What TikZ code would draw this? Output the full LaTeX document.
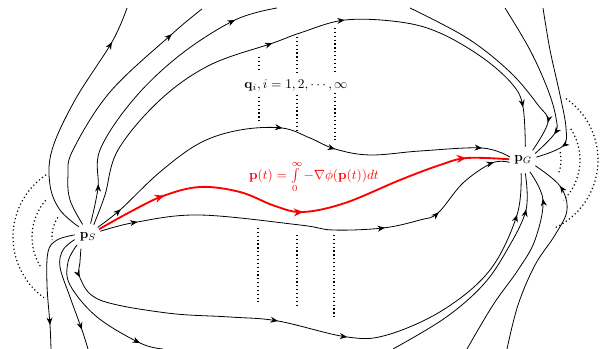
\documentclass[tikz,border=0pt]{standalone}
\usetikzlibrary{arrows.meta,decorations.markings}

\begin{document}
\begin{tikzpicture}[
  x=0.75pt, y=0.75pt,
  every node/.style={inner sep=1pt},
  pnt/.style={circle, minimum size=20pt, inner sep=0pt},
  flow/.style={draw, line width=0.6pt},
  best/.style={draw, red, line width=1.4pt},
  flowtip/.style={postaction={decorate, decoration={markings,
      mark=at position #1 with {\arrow{Stealth[length=5.5pt, width=4.5pt]}}}}},
  besttip/.style={postaction={decorate, decoration={markings,
      mark=at position #1 with {\arrow{Stealth[length=7pt, width=6pt]}}}}},
  level/.style={draw, dotted, line width=0.9pt}]

  \useasboundingbox (0,0) rectangle (607,-349);

  % --- start and goal ---
  \node[pnt] (pS) at (88,-237) {$\mathbf{p}_S$};
  \node[pnt] (pG) at (523,-160) {$\mathbf{p}_G$};

  % --- labels ---
  \node (qlab) at (296,-85) {$\mathbf{q}_i, i=1,2,\cdots,\infty$};
  \node[text=red] (plab) at (314,-177) {$\mathbf{p}(t)=\int\limits_0^\infty -\nabla\phi(\mathbf{p}(t))dt$};

  % --- level sets round p_S and p_G ---
  \draw[level] (pS.center) ++(124:75) arc[start angle=124, end angle=234, radius=75];
  \draw[level] (pS.center) ++(139:56) arc[start angle=139, end angle=214, radius=56];
  \draw[level] (pS.center) ++(147:36) arc[start angle=147, end angle=185, radius=36];
  \draw[level] (pG.center) ++(55:75) arc[start angle=55, end angle=-65, radius=75];
  \draw[level] (pG.center) ++(33:57) arc[start angle=33, end angle=-45, radius=57];
  \draw[level] (pG.center) ++(12:38) arc[start angle=12, end angle=-20, radius=38];

  % --- the q_i, cut by the label ---
  \draw[level] (259,-57) -- (259,-72) (259,-97) -- (259,-122);
  \draw[level] (297,-37) -- (297,-72) (297,-95) -- (297,-130);
  \draw[level] (335,-28) -- (335,-72) (335,-93) -- (335,-140);
  \draw[level] (258,-228) -- (258,-302);
  \draw[level] (297,-235) -- (297,-308);
  \draw[level] (334,-235) -- (334,-318);

  % --- flow lines leaving p_S upward ---
  \draw[flow, flowtip=0.85] plot[smooth, tension=0.6] coordinates {(pS.132) (60,-210) (50,-185) (52,-150) (75,-100) (112,-42) (127,-8)};
  \draw[flow, flowtip=0.855] plot[smooth, tension=0.6] coordinates {(pS.113) (70,-200) (68,-175) (73,-150) (110,-92) (172,-34) (202,-9)};
  \draw[flow, flowtip=0.13, flowtip=0.858] plot[smooth, tension=0.6] coordinates {(pS.79) (98,-188) (100,-150) (133,-100) (180,-55) (235,-20) (277,-8)};
  \draw[flow, flowtip=0.453, flowtip=0.58, flowtip=0.934] plot[smooth, tension=0.6] coordinates {(pS.65) (105,-195) (118,-150) (160,-100) (210,-65) (273,-43) (300,-33) (345,-20) (400,-22) (440,-33) (483,-58) (513,-85) (523,-107) (pG.80)};

  % --- flow lines from p_S to p_G through the middle ---
  \draw[flow, flowtip=0.065, flowtip=0.482, flowtip=0.608, flowtip=0.935] plot[smooth, tension=0.6] coordinates {(pS.45) (120,-210) (160,-172) (200,-143) (240,-130) (282,-128) (310,-138) (335,-149) (370,-155) (420,-151) (482,-148) (pG.167)};
  \draw[best, besttip=0.169, besttip=0.502, besttip=0.9] plot[smooth, tension=0.6] coordinates {(pS.35) (130,-212) (163,-196) (200,-187) (240,-192) (275,-206) (303,-212) (345,-203) (400,-180) (440,-165) (467,-158) (pG.177)};
  \draw[flow, flowtip=0.088, flowtip=0.66, flowtip=0.79, flowtip=0.963] plot[smooth, tension=0.6] coordinates {(pS.25) (137,-222) (200,-215) (300,-225) (333,-230) (383,-228) (420,-220) (438,-213) (463,-183) (492,-163) (pG.190)};

  % --- flow lines leaving p_S downward ---
  \draw[flow, flowtip=0.816] plot[smooth, tension=0.6] coordinates {(pS.171) (57,-240) (48,-252) (47,-285) (50,-325) (51,-349)};
  \draw[flow, flowtip=0.83] plot[smooth, tension=0.6] coordinates {(pS.191) (63,-250) (60,-267) (70,-297) (82,-330) (88,-349)};
  \draw[flow, flowtip=0.85] plot[smooth, tension=0.6] coordinates {(pS.216) (68,-262) (70,-285) (97,-317) (140,-343) (163,-349)};
  \draw[flow, flowtip=0.05, flowtip=0.415, flowtip=0.538, flowtip=0.928] plot[smooth, tension=0.6] coordinates {(pS.239) (80,-262) (80,-278) (100,-300) (167,-313) (230,-317) (278,-321) (347,-337) (387,-335) (443,-310) (490,-270) (517,-215) (pG.262)};

  % --- flow lines coming into p_G from above ---
  \draw[flow, flowtip=0.853] plot[smooth, tension=0.6] coordinates {(410,-8) (467,-38) (510,-72) (538,-105) (548,-122) (pG.45)};
  \draw[flow, flowtip=0.836] plot[smooth, tension=0.6] coordinates {(505,-8) (530,-50) (548,-90) (556,-118) (555,-133) (pG.28)};
  \draw[flow, flowtip=0.837] plot[smooth, tension=0.6] coordinates {(543,-8) (550,-50) (560,-95) (566,-128) (563,-146) (pG.12)};

  % --- flow lines coming into p_G from below ---
  \draw[flow, flowtip=0.846] plot[smooth, tension=0.6] coordinates {(393,-349) (445,-318) (483,-285) (507,-250) (526,-210) (pG.280)};
  \draw[flow, flowtip=0.85] plot[smooth, tension=0.6] coordinates {(467,-349) (493,-305) (518,-270) (535,-240) (543,-200) (pG.300)};
  \draw[flow, flowtip=0.848] plot[smooth, tension=0.6] coordinates {(507,-349) (518,-305) (535,-265) (555,-235) (567,-210) (560,-186) (pG.335)};

\end{tikzpicture}
\end{document}
